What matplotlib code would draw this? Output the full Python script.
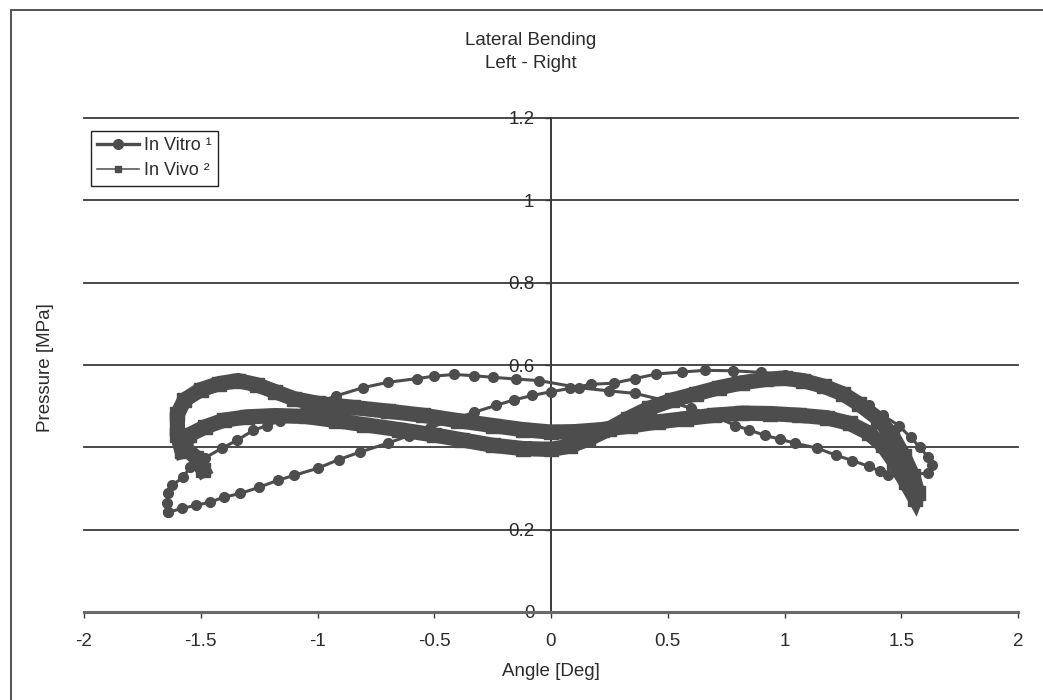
import matplotlib
matplotlib.use("Agg")
import matplotlib.pyplot as plt
from matplotlib.lines import Line2D
from matplotlib.patches import Rectangle

plt.rcParams['font.family'] = ['Liberation Sans', 'DejaVu Sans']

# In vitro loop (circle markers)
vitro_x = [-1.64, -1.58, -1.52, -1.46, -1.40, -1.33, -1.25, -1.17, -1.10, -1.00,
           -0.91, -0.82, -0.70, -0.61, -0.52, -0.43, -0.33, -0.235, -0.16, -0.08,
           0.0, 0.08, 0.17, 0.27, 0.36, 0.45, 0.56, 0.66, 0.78, 0.90,
           1.00, 1.10, 1.20, 1.28, 1.36, 1.42, 1.49, 1.54, 1.58, 1.615,
           1.63, 1.615, 1.55, 1.49, 1.443, 1.41, 1.36, 1.29, 1.22, 1.14,
           1.045, 0.98, 0.916, 0.85, 0.79, 0.70, 0.60, 0.50, 0.36, 0.25,
           0.12, -0.05, -0.15, -0.248, -0.33, -0.415, -0.50, -0.574, -0.698, -0.805,
           -0.92, -1.03, -1.10, -1.16, -1.216, -1.276, -1.345, -1.409, -1.48, -1.546,
           -1.576, -1.623, -1.64, -1.645, -1.64]
vitro_y = [0.242, 0.252, 0.259, 0.267, 0.279, 0.288, 0.303, 0.320, 0.332, 0.349,
           0.370, 0.388, 0.410, 0.428, 0.447, 0.466, 0.485, 0.502, 0.515, 0.526,
           0.535, 0.543, 0.553, 0.556, 0.567, 0.578, 0.583, 0.587, 0.586, 0.582,
           0.575, 0.560, 0.540, 0.520, 0.502, 0.478, 0.453, 0.424, 0.400, 0.376,
           0.356, 0.337, 0.335, 0.332, 0.332, 0.342, 0.354, 0.368, 0.381, 0.398,
           0.410, 0.420, 0.429, 0.442, 0.453, 0.475, 0.495, 0.512, 0.531, 0.537,
           0.545, 0.562, 0.566, 0.570, 0.574, 0.577, 0.573, 0.567, 0.558, 0.545,
           0.525, 0.503, 0.482, 0.465, 0.453, 0.441, 0.417, 0.398, 0.375, 0.352,
           0.327, 0.308, 0.288, 0.265, 0.242]

# In vivo loop (square markers, dense trace)
vivo_x = [-1.49, -1.52, -1.57, -1.55, -1.48, -1.40, -1.30, -1.18, -1.05, -0.92,
          -0.80, -0.65, -0.50, -0.38, -0.25, -0.12, 0.0, 0.08, 0.16, 0.25,
          0.33, 0.42, 0.52, 0.62, 0.72, 0.82, 0.92, 1.00, 1.08, 1.17,
          1.25, 1.32, 1.40, 1.46, 1.51, 1.55, 1.57, 1.56,
          1.52, 1.47, 1.42, 1.36, 1.28, 1.18, 1.06, 0.94, 0.82, 0.70,
          0.58, 0.46, 0.34, 0.22, 0.10, 0.0, -0.12, -0.25, -0.40, -0.55,
          -0.70, -0.85, -1.00, -1.10, -1.18, -1.26, -1.34, -1.42, -1.50, -1.57,
          -1.60, -1.60, -1.58]
vivo_y = [0.345, 0.375, 0.400, 0.430, 0.450, 0.466, 0.474, 0.477, 0.475, 0.465,
          0.455, 0.443, 0.430, 0.418, 0.405, 0.397, 0.395, 0.403, 0.420, 0.445,
          0.470, 0.495, 0.515, 0.530, 0.545, 0.557, 0.565, 0.568, 0.562, 0.548,
          0.530, 0.505, 0.470, 0.430, 0.380, 0.330, 0.290, 0.275,
          0.315, 0.365, 0.405, 0.435, 0.458, 0.472, 0.478, 0.482, 0.483, 0.478,
          0.470, 0.462, 0.452, 0.443, 0.438, 0.437, 0.443, 0.453, 0.465, 0.478,
          0.488, 0.497, 0.507, 0.518, 0.535, 0.552, 0.562, 0.555, 0.540, 0.515,
          0.480, 0.430, 0.390]

x_ticks = [-2, -1.5, -1, -0.5, 0, 0.5, 1, 1.5, 2]
x_labels = ["-2", "-1.5", "-1", "-0.5", "0", "0.5", "1", "1.5", "2"]
y_ticks = [0, 0.2, 0.4, 0.6, 0.8, 1, 1.2]
y_labels = ["0", "0.2", "0.4", "0.6", "0.8", "1", "1.2"]

TXT = "#2b2b2b"
LINE = "#4d4d4d"
FS = 13.5

fig = plt.figure(figsize=(10.43, 7.0), dpi=100)
ax = fig.add_axes([84 / 1043, 88 / 700, 934 / 1043, 494 / 700])

ax.plot(vitro_x, vitro_y, color=LINE, lw=2.2, marker='o', ms=7, zorder=3)
ax.plot(vivo_x, vivo_y, color=LINE, lw=11, marker='s', ms=10,
        solid_joinstyle='miter', zorder=4)

ax.set_xlim(-2, 2)
ax.set_ylim(0, 1.2)

for y in y_ticks[1:]:
    ax.axhline(y, color="#3a3a3a", lw=1.3, zorder=1, clip_on=False)

ax.spines['top'].set_visible(False)
ax.spines['right'].set_visible(False)
ax.spines['left'].set_position(('data', 0))
ax.spines['left'].set_color("#3a3a3a")
ax.spines['left'].set_linewidth(1.4)
ax.spines['bottom'].set_color("#6a6a6a")
ax.spines['bottom'].set_linewidth(2.2)

ax.set_xticks(x_ticks)
ax.set_xticklabels(x_labels)
ax.set_yticks(y_ticks)
ax.set_yticklabels(y_labels)
ax.tick_params(axis='x', direction='out', length=4, width=1, color="#3a3a3a",
               pad=11, labelsize=FS, labelcolor=TXT)
ax.tick_params(axis='y', direction='out', length=4, width=1, color="#3a3a3a",
               pad=8, labelsize=FS, labelcolor=TXT)

handles = [
    Line2D([], [], color=LINE, lw=2.4, marker='o', ms=7),
    Line2D([], [], color=LINE, lw=1.1, marker='s', ms=5),
]
leg = ax.legend(handles, ["In Vitro \u00b9", "In Vivo \u00b2"], loc='upper left',
                bbox_to_anchor=(0.0075, 0.974), fontsize=FS - 0.5, frameon=True,
                fancybox=False, edgecolor="#222222", framealpha=1,
                handlelength=2.3, handletextpad=0.3, borderpad=0.35,
                labelspacing=0.45, borderaxespad=0)
leg.get_frame().set_linewidth(1.0)
for t in leg.get_texts():
    t.set_color(TXT)

fig.text(531 / 1043, 1 - 52 / 700, "Lateral Bending\nLeft - Right", ha='center',
         va='center', fontsize=FS, color=TXT, linespacing=1.45)
fig.text(551 / 1043, 1 - 671 / 700, "Angle [Deg]", ha='center', va='center',
         fontsize=FS, color=TXT)
fig.text(45 / 1043, 1 - 368 / 700, "Pressure [MPa]", ha='center', va='center',
         rotation=90, fontsize=FS, color=TXT)

fig.add_artist(Rectangle((11 / 1043, -0.05), 1.2, 1.05 - 10 / 700, fill=False,
                         edgecolor="#444444", lw=1.3, transform=fig.transFigure))

fig.savefig("out.png", dpi=100, facecolor='white')
